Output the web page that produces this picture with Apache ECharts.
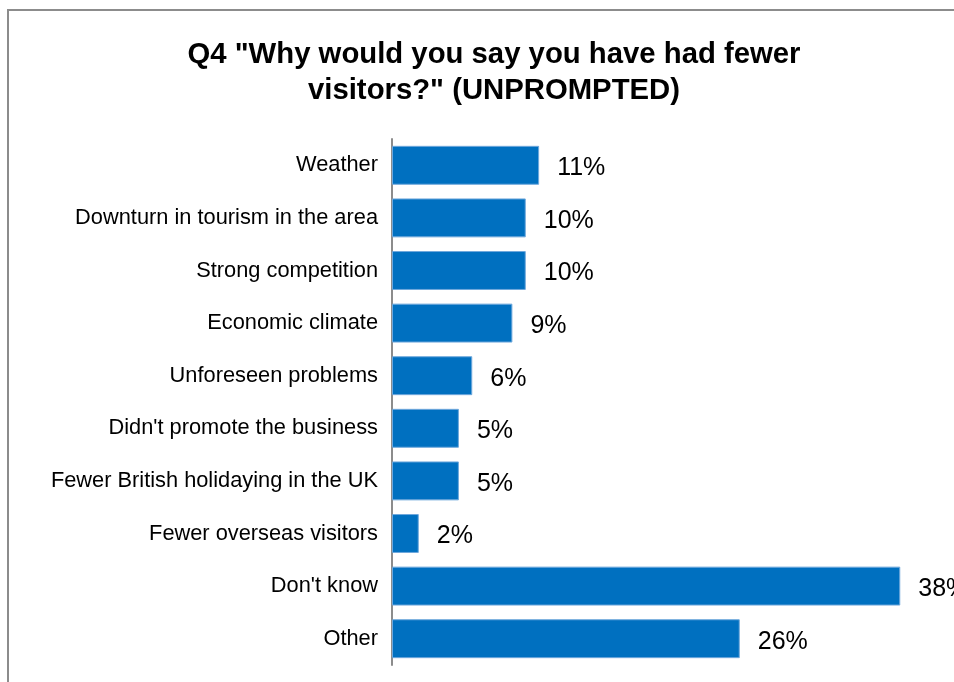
<!DOCTYPE html>
<html>
<head>
<meta charset="utf-8">
<script src="https://cdn.jsdelivr.net/npm/echarts@6/dist/echarts.min.js"></script>
<style>
html,body{margin:0;padding:0;background:#fff;}
#chart{width:954px;height:682px;}
</style>
</head>
<body>
<div id="chart"></div>
<script>
const categories = [
  "Weather",
  "Downturn in tourism in the area",
  "Strong competition",
  "Economic climate",
  "Unforeseen problems",
  "Didn't promote the business",
  "Fewer British holidaying in the UK",
  "Fewer overseas visitors",
  "Don't know",
  "Other"
];
const values = [11, 10, 10, 9, 6, 5, 5, 2, 38, 26];
const titleText = 'Q4 "Why would you say you have had fewer\nvisitors?" (UNPROMPTED)';

const chart = echarts.init(document.getElementById('chart'), null, {renderer: 'canvas'});
chart.setOption({
  backgroundColor: '#ffffff',
  animation: false,
  graphic: [{
    type: 'rect',
    shape: {x: 8, y: 10, width: 1000, height: 700},
    style: {fill: 'none', stroke: '#8c8c8c', lineWidth: 2},
    silent: true
  }],
  title: {
    text: titleText,
    left: 489,
    textAlign: 'center',
    top: 32,
    textStyle: {
      fontFamily: 'Liberation Sans, Arial, sans-serif',
      fontWeight: 'bold',
      fontSize: 29.3,
      lineHeight: 36,
      color: '#000'
    }
  },
  grid: {
    left: 392,
    right: 27,
    top: 139,
    bottom: 17,
    containLabel: false
  },
  xAxis: {
    type: 'value',
    min: 0,
    max: 40,
    show: false
  },
  yAxis: {
    type: 'category',
    inverse: true,
    data: categories,
    axisLine: {show: true, lineStyle: {color: '#8c8c8c', width: 2}},
    axisTick: {show: false},
    axisLabel: {
      margin: 14,
      padding: [3, 0, 0, 0],
      fontFamily: 'Liberation Sans, Arial, sans-serif',
      fontSize: 21.8,
      color: '#000'
    }
  },
  series: [{
    type: 'bar',
    data: values,
    barCategoryGap: '26%',
    itemStyle: {color: '#0070c0', borderColor: '#6fa8dc', borderWidth: 1},
    label: {
      show: true,
      position: 'right',
      distance: 18,
      offset: [0, 3],
      formatter: '{c}%',
      fontFamily: 'Liberation Sans, Arial, sans-serif',
      fontSize: 25,
      color: '#000'
    }
  }]
});
</script>
</body>
</html>
